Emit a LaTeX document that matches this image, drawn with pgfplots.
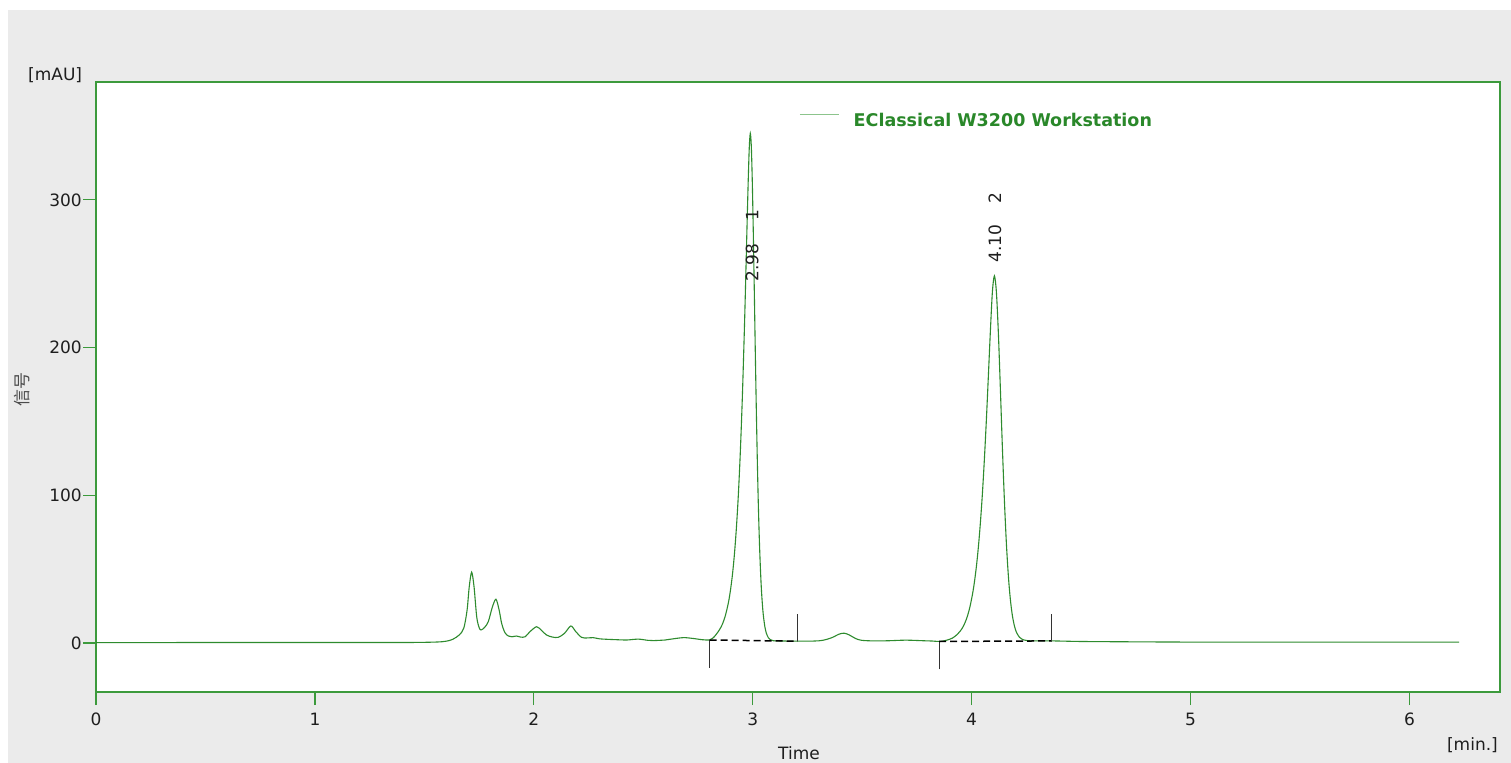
\documentclass[border=0pt]{standalone}
\usepackage{pgfplots}
\pgfplotsset{compat=1.18}
\usepackage{fontspec}
\setmainfont{DejaVu Sans}
\newfontfamily\cjk{Noto Sans CJK SC}
\definecolor{bggray}{HTML}{EBEBEB}
\definecolor{framegreen}{HTML}{3C9A3C}
\definecolor{curvegreen}{HTML}{2E8B2E}
\definecolor{legline}{HTML}{8CC48C}
\definecolor{labgreen}{HTML}{2A882A}
\definecolor{txt}{HTML}{1E1E1E}
\newcommand\lblfont{\fontsize{17bp}{20bp}\selectfont}

\begin{document}
\begin{tikzpicture}
\useasboundingbox (0bp,0bp) rectangle (1511bp,763bp);
\fill[white] (0bp,0bp) rectangle (1511bp,763bp);
\fill[bggray] (8bp,0bp) rectangle (1511bp,753bp);
\begin{axis}[
  at={(96bp,71bp)}, anchor=south west,
  width=1404bp, height=610bp, scale only axis,
  xmin=0, xmax=6.414, ymin=-33.2, ymax=379.8,
  xtick={0,1,2,3,4,5,6}, ytick={0,100,200,300},
  tick pos=left, tick align=outside, major tick length=13bp,
  axis line style={framegreen, line width=1.2bp},
  every tick/.style={framegreen, line width=1.2bp},
  axis background/.style={fill=white},
  /pgf/number format/assume math mode=true,
  tick label style={font=\lblfont, text=txt},
  xticklabel style={inner sep=0pt, yshift=-8bp},
  yticklabel style={inner sep=1bp},
  legend image code/.code={\draw[legline, line width=1.5bp] (0bp,6.3bp) -- (39bp,6.3bp);},
  legend style={at={(0.5007,0.936)}, anchor=west, draw=none, fill=none,
    inner sep=0pt, column sep=14bp, nodes={inner sep=0pt},
    font=\fontsize{17.5bp}{20bp}\selectfont\bfseries, text=labgreen},
]
\addplot[curvegreen, line width=1.1bp, smooth, tension=0.5] coordinates {
(0,0.2) (0.5,0.3) (1.0,0.3) (1.4,0.3) (1.55,0.6) (1.6,1.2) (1.63,2.5) (1.66,5.5)
(1.68,10) (1.695,22) (1.705,38) (1.716,47.9) (1.727,38) (1.739,17.8) (1.75,10.5)
(1.759,8.8) (1.775,10.5) (1.792,14.4) (1.81,24) (1.827,29.6) (1.842,22) (1.853,13.3)
(1.868,7) (1.884,4.7) (1.9,4.2) (1.921,4.7) (1.94,4.0) (1.96,4.2) (1.985,8) (2.013,11)
(2.035,8.5) (2.058,5.4) (2.085,4.0) (2.111,3.8) (2.14,6.5) (2.169,11.5) (2.19,8)
(2.218,3.8) (2.245,3.4) (2.271,3.6) (2.3,2.8) (2.332,2.5) (2.38,2.2) (2.424,2.0)
(2.477,2.6) (2.52,1.8) (2.546,1.6) (2.6,2.0) (2.622,2.5) (2.683,3.6) (2.73,3.0)
(2.77,2.2)
(2.8017,2.0) (2.8154,3.0) (2.8291,5.0) (2.8474,8.8) (2.8611,12.6) (2.8748,18.4)
(2.8885,27.0) (2.8976,35.0) (2.9068,45.5) (2.9159,59.2) (2.9250,77.0) (2.9342,99.9)
(2.9433,129.1) (2.9525,165.9) (2.9616,210.8) (2.9662,236.1) (2.9707,262.8)
(2.9753,289.8) (2.9799,315.4) (2.9844,335.9) (2.9890,345.0) (2.9936,336.1)
(2.9981,312.0) (3.0027,277.5) (3.0073,237.7) (3.0118,196.9) (3.0164,158.2)
(3.0210,123.7) (3.0255,94.5) (3.0301,70.7) (3.0347,51.9) (3.0392,37.5) (3.0438,26.8)
(3.0484,18.9) (3.0552,11.2) (3.0621,6.7) (3.0712,3.6) (3.0804,2.25) (3.0941,1.5)
(3.149,1.3) (3.2,1.2) (3.28,1.3) (3.32,1.8) (3.36,3.5) (3.395,6) (3.418,6.6)
(3.44,5.5) (3.47,3) (3.497,1.8) (3.55,1.4) (3.62,1.5) (3.7,1.9) (3.78,1.5)
(3.8208,1.3) (3.8573,1.0) (3.8893,2.0) (3.9121,3.3) (3.9304,5.3) (3.9487,8.2)
(3.9624,11.4) (3.9761,16.1) (3.9898,22.9) (4.0035,32.6) (4.0126,41.1) (4.0218,51.8)
(4.0309,65.1) (4.0400,81.4) (4.0492,101.1) (4.0583,124.5) (4.0675,151.5)
(4.0766,181.2) (4.0857,211.3) (4.0949,237.8) (4.1040,248.5) (4.1131,237.6)
(4.1223,209.3) (4.1314,171.7) (4.1405,132.3) (4.1497,96.6) (4.1588,67.3)
(4.1680,45.0) (4.1771,29.2) (4.1862,18.5) (4.1954,11.6) (4.2045,7.3) (4.2182,3.9)
(4.2319,2.4) (4.2502,1.7) (4.2776,1.4)
(4.366,1.4) (4.5,1.0) (4.7,0.8) (5.0,0.6) (5.5,0.6) (6.0,0.6) (6.227,0.6)
};
\addlegendentry{EClassical W3200 Workstation}
% integration marks
\addplot[forget plot, black!80, line width=1.2bp] coordinates {(2.803,-16.9) (2.803,2.0)};
\addplot[forget plot, black, line width=1.5bp, dash pattern=on 7bp off 4bp] coordinates {(2.803,2.0) (3.206,1.2)};
\addplot[forget plot, black!80, line width=1.2bp] coordinates {(3.206,1.2) (3.206,19.5)};
\addplot[forget plot, black!80, line width=1.2bp] coordinates {(3.852,-17.9) (3.852,1.0)};
\addplot[forget plot, black, line width=1.5bp, dash pattern=on 7bp off 4bp] coordinates {(3.852,1.0) (4.366,1.4)};
\addplot[forget plot, black!80, line width=1.2bp] coordinates {(4.366,1.4) (4.366,19.5)};
\node[rotate=90, anchor=west, inner sep=0pt, font=\lblfont, text=txt] at (axis cs:2.997,244.4) {2.98\hspace{23bp}1};
\node[rotate=90, anchor=west, inner sep=0pt, font=\lblfont, text=txt] at (axis cs:4.107,257.3) {4.10\hspace{21bp}2};
\end{axis}
\node[anchor=base west, inner sep=0pt, font=\lblfont, text=txt] at (28bp,682bp) {[mAU]};
\node[anchor=base east, inner sep=0pt, font=\lblfont, text=txt] at (1498bp,13bp) {[min.]};
\node[anchor=base, inner sep=0pt, font=\lblfont, text=txt] at (799bp,4bp) {Time};
\node[rotate=90, inner sep=0pt, font=\cjk\fontsize{17bp}{20bp}\selectfont, text=txt!80] at (21.7bp,373.5bp) {信号};
\end{tikzpicture}
\end{document}
